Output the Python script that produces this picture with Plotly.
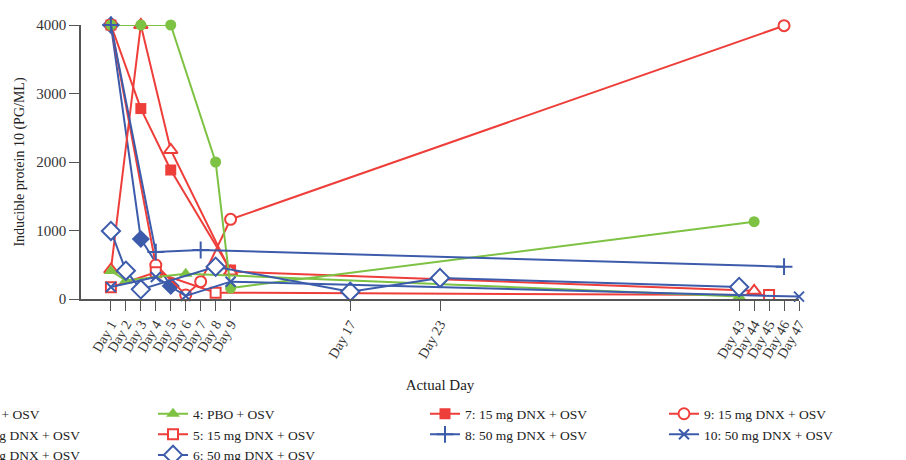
import plotly.graph_objects as go

RED = "#EE3E3A"
BLUE = "#3C5CAB"
GREEN = "#7DC243"
FONT = "Liberation Serif"

tick_days = [1, 2, 3, 4, 5, 6, 7, 8, 9, 17, 23, 43, 44, 45, 46, 47]
tick_labels = ["Day %d" % d for d in tick_days]

# series data (day, value)
s1_days = [1, 3, 5, 8, 9, 44]
s1_vals = [4000, 4000, 4000, 2000, 160, 1128]
s2_days = [1, 3, 5, 9, 44]
s2_vals = [430, 4000, 2175, 400, 120]
s3_days = [1, 3, 5]
s3_vals = [4000, 876, 190]
s4_days = [1, 2, 6, 43]
s4_vals = [410, 270, 370, 35]
s5_days = [1, 4, 8, 45]
s5_vals = [171, 390, 92, 58]
s6_days = [1, 2, 3, 8, 17, 23, 43]
s6_vals = [993, 413, 141, 472, 107, 307, 175]
s7_days = [1, 3, 5, 9]
s7_vals = [4000, 2780, 1883, 423]
s8_days = [1, 4, 7, 46]
s8_vals = [4000, 685, 715, 472]
s9_days = [1, 4, 6, 7, 9, 46]
s9_vals = [4000, 496, 60, 253, 1163, 3990]
s10_days = [1, 4, 6, 9, 47]
s10_vals = [175, 320, 44, 253, 35]

# name, days, values, colour, symbol, filled, size, legend
series = {
    1: ("1: PBO + OSV", s1_days, s1_vals, GREEN, "circle", True, 11, "legend"),
    2: ("2: 15 mg DNX + OSV", s2_days, s2_vals, RED, "triangle-up", False, 12, "legend"),
    3: ("3: 50 mg DNX + OSV", s3_days, s3_vals, BLUE, "diamond", True, 14, "legend"),
    4: ("4: PBO + OSV", s4_days, s4_vals, GREEN, "triangle-up", True, 12, "legend2"),
    5: ("5: 15 mg DNX + OSV", s5_days, s5_vals, RED, "square", False, 10, "legend2"),
    6: ("6: 50 mg DNX + OSV", s6_days, s6_vals, BLUE, "diamond", False, 14, "legend2"),
    7: ("7: 15 mg DNX + OSV", s7_days, s7_vals, RED, "square", True, 11, "legend3"),
    8: ("8: 50 mg DNX + OSV", s8_days, s8_vals, BLUE, "cross-thin", None, 12, "legend3"),
    9: ("9: 15 mg DNX + OSV", s9_days, s9_vals, RED, "circle", False, 11, "legend4"),
    10: ("10: 50 mg DNX + OSV", s10_days, s10_vals, BLUE, "x-thin", None, 10, "legend4"),
}
draw_order = [3, 9, 7, 2, 5, 1, 4, 6, 10, 8]

fig = go.Figure()
for k in draw_order:
    name, xs, ys, col, sym, filled, size, leg = series[k]
    if filled is None:
        marker = dict(symbol=sym, size=size, color=col, line=dict(color=col, width=2))
    elif filled:
        marker = dict(symbol=sym, size=size, color=col, line=dict(width=0))
    else:
        marker = dict(symbol=sym, size=size, color="white", line=dict(color=col, width=2))
    fig.add_trace(go.Scatter(
        x=xs, y=ys, name=name, mode="lines+markers",
        line=dict(color=col, width=2), marker=marker,
        cliponaxis=False, legend=leg, legendrank=k,
    ))

L, R, T, B = 81, 107, 25, 161
W, H = 906, 460
pw = W - L - R
ph = H - T - B

def px_to_paper_x(px):
    return (px - L) / pw

def py_to_paper_y(py):
    return (H - B - py) / ph

legend_common = dict(
    font=dict(family=FONT, size=13.5, color="#222"),
    bgcolor="rgba(0,0,0,0)", borderwidth=0,
    orientation="v", xanchor="left", yanchor="top",
    y=py_to_paper_y(398.5), tracegroupgap=0, itemwidth=30,
)
text_starts = [-40, 195, 467, 706]
leg_names = ["legend", "legend2", "legend3", "legend4"]
layout_legends = {}
for ln, ts in zip(leg_names, text_starts):
    d = dict(legend_common)
    d["x"] = px_to_paper_x(ts - 42)
    layout_legends[ln] = d

fig.update_layout(
    width=W, height=H,
    margin=dict(l=L, r=R, t=T, b=B, autoexpand=False),
    paper_bgcolor="white", plot_bgcolor="white",
    font=dict(family=FONT, size=14, color="#333"),
    showlegend=True,
    xaxis=dict(
        range=[-1, 47], tickmode="array", tickvals=tick_days, ticktext=tick_labels,
        tickangle=-60, ticks="outside", ticklen=10, tickwidth=1.2, tickcolor="#555",
        showline=True, linecolor="#555", linewidth=1.5, showgrid=False, zeroline=False,
        tickfont=dict(family=FONT, size=14, color="#333"),
        title=dict(text="Actual Day", font=dict(family=FONT, size=15, color="#222"), standoff=20),
    ),
    yaxis=dict(
        range=[0, 4000], tickvals=[0, 1000, 2000, 3000, 4000],
        ticks="outside", ticklen=10, tickwidth=1.2, tickcolor="#555",
        showline=True, linecolor="#555", linewidth=1.5, showgrid=False, zeroline=False,
        tickfont=dict(family=FONT, size=15, color="#333"),
        title=dict(text="Inducible protein 10 (PG/ML)", font=dict(family=FONT, size=14, color="#222"), standoff=8),
    ),
    **layout_legends,
)

fig.write_html("out.html")
